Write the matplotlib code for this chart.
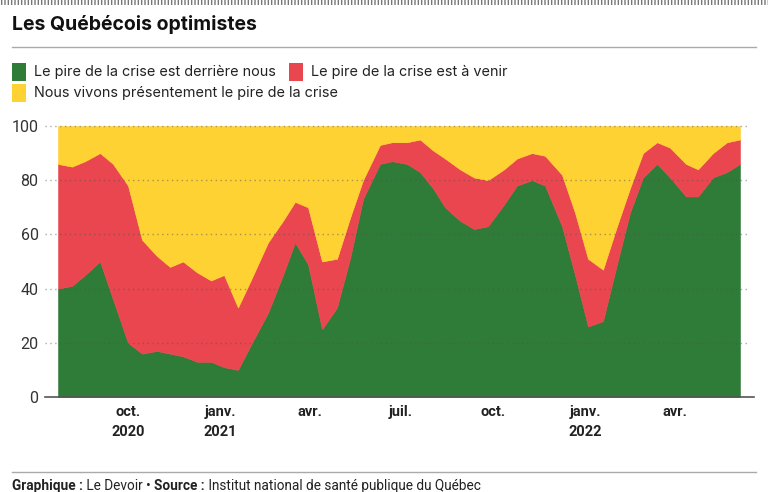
import matplotlib
matplotlib.use('Agg')
import matplotlib.pyplot as plt
from matplotlib.patches import Rectangle
from matplotlib.lines import Line2D
import pandas as pd

# survey dates (approx.) and shares in %
dates = ['2020-07-23', '2020-08-06', '2020-08-19', '2020-09-03', '2020-09-16',
         '2020-10-01', '2020-10-15', '2020-10-30', '2020-11-12', '2020-11-25',
         '2020-12-09', '2020-12-23', '2021-01-05', '2021-01-19', '2021-02-02',
         '2021-02-18', '2021-03-05', '2021-03-17', '2021-03-30', '2021-04-13',
         '2021-04-28', '2021-05-11', '2021-05-24', '2021-06-10', '2021-06-22',
         '2021-07-07', '2021-07-20', '2021-08-02', '2021-08-14', '2021-08-29',
         '2021-09-12', '2021-09-26', '2021-10-12', '2021-10-25', '2021-11-09',
         '2021-11-22', '2021-12-09', '2021-12-22', '2022-01-04', '2022-01-19',
         '2022-02-02', '2022-02-15', '2022-02-28', '2022-03-14', '2022-03-27',
         '2022-04-12', '2022-04-24', '2022-05-09', '2022-05-23', '2022-06-05']
derriere = [40, 41, 45, 50, 36, 20, 16, 17, 16, 15, 13, 13, 11, 10, 20, 31, 45, 57, 49, 25,
            33, 51, 73, 86, 87, 86, 83, 77, 70, 65, 62, 63, 71, 78, 80, 78, 63, 45, 26, 28,
            49, 68, 81, 86, 81, 74, 74, 81, 83, 86]
a_venir = [46, 44, 42, 40, 50, 58, 42, 35, 32, 35, 33, 30, 34, 23, 24, 26, 20, 15, 21, 25,
           18, 15, 7, 7, 7, 8, 12, 14, 18, 19, 19, 17, 13, 10, 10, 11, 19, 23, 25, 19,
           14, 9, 9, 8, 11, 12, 10, 9, 11, 9]
presentement = [14, 15, 13, 10, 14, 22, 42, 48, 52, 50, 54, 57, 55, 67, 56, 43, 35, 28, 30, 50,
                49, 34, 20, 7, 6, 6, 5, 9, 12, 16, 19, 20, 16, 12, 10, 11, 18, 32, 49, 53,
                37, 23, 10, 6, 8, 14, 16, 10, 6, 5]

series_labels = ['Le pire de la crise est derrière nous',
                 'Le pire de la crise est à venir',
                 'Nous vivons présentement le pire de la crise']
colors = ['#2f7b38', '#e9464f', '#fed232']

tick_dates = ['2020-10-01', '2021-01-01', '2021-04-01', '2021-07-01',
              '2021-10-01', '2022-01-01', '2022-04-01']
tick_labels = ['oct.\n2020', 'janv.\n2021', 'avr.', 'juil.', 'oct.', 'janv.\n2022', 'avr.']
y_ticks = [0, 20, 40, 60, 80, 100]

W, H = 768, 492
fig = plt.figure(figsize=(W / 100, H / 100), dpi=100)


def fx(px):
    return px / W


def fy(py):
    return 1 - py / H


ax = fig.add_axes([fx(58), fy(397), fx(740) - fx(58), fy(126) - fy(397)])
x = pd.to_datetime(dates)
polys = ax.stackplot(x, derriere, a_venir, presentement, colors=colors, linewidth=0.4)
for p, c in zip(polys, colors):
    p.set_edgecolor(c)
ax.set_xlim(x[0], x[-1])
ax.set_ylim(0, 100)
for s in ax.spines.values():
    s.set_visible(False)

ax.set_yticks(y_ticks)
ax.set_yticklabels([str(v) for v in y_ticks], fontsize=11.5, color='#333333', family='Roboto')
ax.set_xticks(pd.to_datetime(tick_dates))
ax.set_xticklabels(tick_labels, fontsize=10.5, fontweight='bold', color='#222222',
                   family='Roboto', linespacing=1.55)
ax.tick_params(axis='y', length=0, pad=14)
ax.tick_params(axis='x', length=0, pad=6)

# dotted grid over the areas, running a bit past the plot
trans = ax.get_yaxis_transform()
for v in y_ticks[1:]:
    ax.add_line(Line2D([-0.019, 1.012], [v, v], transform=trans, clip_on=False,
                       color='#555555', alpha=0.5, lw=1, ls=(0, (1, 2.5)), zorder=5))
ax.add_line(Line2D([-0.019, 1.02], [0, 0], transform=trans, clip_on=False,
                   color='#555555', lw=1.2, zorder=5))

# top striped rule
fig.patches.append(Rectangle((0, fy(5)), 1, fy(0) - fy(5), transform=fig.transFigure,
                             facecolor='none', edgecolor='#777777', hatch='|||||', lw=0))

fig.text(fx(12), fy(25), 'Les Québécois optimistes', fontsize=14, fontweight='bold',
         family='Inter', color='#111111', va='center', ha='left')
fig.add_artist(Line2D([fx(12), fx(756)], [fy(47), fy(47)], color='#aaaaaa', lw=1))

# legend
legend_pos = [(12, 72), (289, 72), (12, 93)]
for (px, py), lab, c in zip(legend_pos, series_labels, colors):
    fig.patches.append(Rectangle((fx(px), fy(py + 9)), fx(14), fy(0) - fy(18),
                                 transform=fig.transFigure, facecolor=c, lw=0))
    fig.text(fx(px + 22), fy(py), lab, fontsize=10.4, family='Inter', color='#222222',
             va='center', ha='left')

# footer
fig.add_artist(Line2D([fx(12), fx(756)], [fy(472), fy(472)], color='#aaaaaa', lw=1))
pieces = [('Graphique :', 'bold'), (' Le Devoir • ', 'normal'),
          ('Source :', 'bold'), (' Institut national de santé publique du Québec', 'normal')]
fig.canvas.draw()
r = fig.canvas.get_renderer()
cur = fx(12)
for txt, wt in pieces:
    t = fig.text(cur, fy(486), txt, fontsize=9.8, fontweight=wt, family='Roboto',
                 color='#222222', va='center', ha='left')
    bb = t.get_window_extent(renderer=r)
    cur += bb.width / W

fig.savefig('out.png', dpi=100)
